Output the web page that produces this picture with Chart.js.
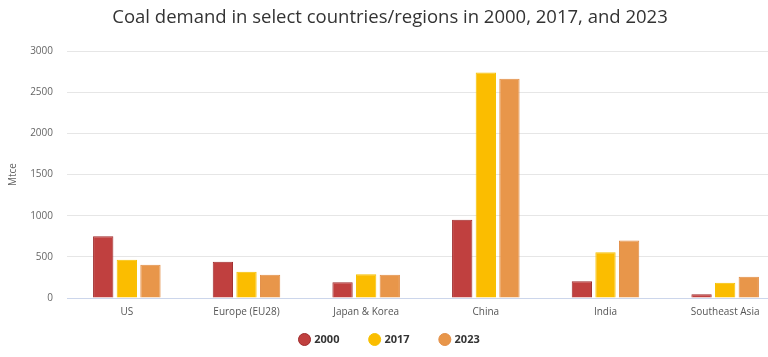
<!DOCTYPE html>
<html>
<head>
<meta charset="utf-8">
<script src="https://cdn.jsdelivr.net/npm/chart.js@4"></script>
<style>
html,body{margin:0;padding:0;background:#fff;overflow:hidden;}
#wrap{width:768px;height:357px;position:relative;overflow:hidden;}
</style>
</head>
<body>
<div id="wrap"><canvas id="c" width="768" height="357"></canvas></div>
<script>
const categories = ["US", "Europe (EU28)", "Japan & Korea", "China", "India", "Southeast Asia"];
const seriesNames = ["2000", "2017", "2023"];
const values2000 = [750, 440, 190, 950, 205, 45];
const values2017 = [465, 318, 290, 2740, 556, 185];
const values2023 = [405, 282, 282, 2665, 698, 258];
const yTicks = [0, 500, 1000, 1500, 2000, 2500, 3000];

const fills = ["#c0403f", "#fbbd00", "#e8964a"];
const borders = ["#9e2a2b", "#f5c200", "#e28d45"];
const FONT = "'Open Sans', 'Noto Sans', sans-serif";

// The reference is cropped on the right: the plot area runs past the canvas edge.
const PLOT_RIGHT = 785;
const LEGEND_SHIFT = -19;

const layoutTweaks = {
  id: 'layoutTweaks',
  afterLayout(chart) {
    const x = chart.scales.x;
    x.right = PLOT_RIGHT;
    x.width = x.right - x.left;
    chart.chartArea.right = PLOT_RIGHT;
    chart.chartArea.width = chart.chartArea.right - chart.chartArea.left;
    x.configure();
    const lg = chart.legend;
    if (lg) {
      lg.top += LEGEND_SHIFT;
      lg.bottom = chart.height;
      lg.height = lg.bottom - lg.top;
    }
  }
};

new Chart(document.getElementById('c'), {
  type: 'bar',
  data: {
    labels: categories,
    datasets: [values2000, values2017, values2023].map((v, i) => ({
      label: seriesNames[i],
      data: v,
      backgroundColor: fills[i],
      borderColor: borders[i],
      borderWidth: 1,
      categoryPercentage: 0.592,
      barPercentage: 0.86
    }))
  },
  plugins: [layoutTweaks],
  options: {
    responsive: false,
    animation: false,
    layout: { padding: { left: 14, right: 2, top: 4, bottom: 5 } },
    plugins: {
      title: {
        display: true,
        text: "Coal demand in select countries/regions in 2000, 2017, and 2023",
        color: '#333333',
        font: { family: FONT, size: 18.5, weight: 'normal' },
        padding: { top: 3, bottom: 22 }
      },
      legend: {
        position: 'bottom',
        maxHeight: 30,
        labels: {
          usePointStyle: true,
          pointStyle: 'circle',
          boxWidth: 8.5,
          boxHeight: 8.5,
          padding: 31,
          color: '#333333',
          font: { family: FONT, size: 11, weight: 'bold' }
        }
      },
      tooltip: { enabled: false }
    },
    scales: {
      x: {
        afterFit: (axis) => { axis.height = 24; },
        grid: { display: false, drawTicks: false },
        border: { display: true, color: '#ccd6eb' },
        ticks: { color: '#555555', font: { family: FONT, size: 10 }, padding: 8 }
      },
      y: {
        min: 0,
        max: 3000,
        afterBuildTicks: (axis) => { axis.ticks = yTicks.map(v => ({ value: v })); },
        afterFit: (axis) => { axis.width = 53; },
        grid: { color: '#e6e6e6', drawTicks: false },
        border: { display: false },
        ticks: { color: '#666666', font: { family: FONT, size: 10 }, padding: 14, callback: (v) => String(v) },
        title: {
          display: true,
          text: 'Mtce',
          color: '#666666',
          font: { family: FONT, size: 10 },
          padding: { top: -7, bottom: 0 }
        }
      }
    }
  }
});
</script>
</body>
</html>
